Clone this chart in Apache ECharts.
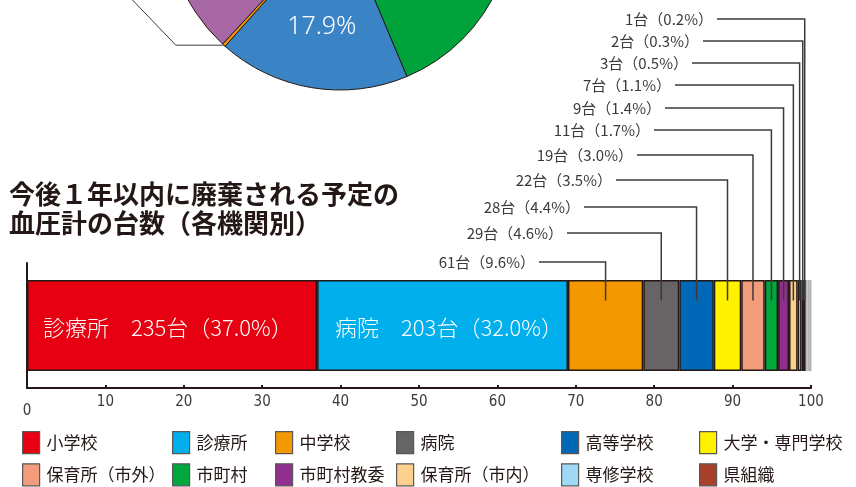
<!DOCTYPE html>
<html>
<head>
<meta charset="utf-8">
<script src="https://cdn.jsdelivr.net/npm/echarts@6/dist/echarts.min.js"></script>
<style>
html, body { margin: 0; padding: 0; background: #fff; }
#main { width: 856px; height: 487px; }
</style>
</head>
<body>
<div id="main"></div>
<script>
// 機関別（棒グラフ）
const categories = ["小学校", "診療所", "中学校", "病院", "高等学校", "大学・専門学校",
    "保育所（市外）", "市町村", "市町村教委", "保育所（市内）", "専修学校", "県組織", "その他"];
const counts = [235, 203, 61, 29, 28, 22, 19, 11, 9, 7, 3, 2, 1];
const percents = [37.0, 32.0, 9.6, 4.6, 4.4, 3.5, 3.0, 1.7, 1.4, 1.1, 0.5, 0.3, 0.2];
const innerNames = ["診療所", "病院"];
const tickValues = [0, 10, 20, 30, 40, 50, 60, 70, 80, 90, 100];

// 上の円グラフ（見えている部分のみ読める）
const pieNames = ["青", "橙", "紫", "その他1", "その他2", "緑"];
const pieValues = [17.9, 0.3, 15.5, 25.0, 16.7, 24.6];

const colors = ["#e60012", "#00afec", "#f39800", "#666464", "#0068b7", "#fff100",
    "#f29c7b", "#00a73c", "#912f8e", "#fdd08c", "#9fd9f6", "#a8402b", "#5a2a22"];
const pieColors = ["#3a84c5", "#f39800", "#a868a5", "#d9d9d9", "#cccccc", "#00a33b"];

// 吹き出しラベルの配置（下から上へ）
const calloutY = [262, 233, 207, 180, 155, 130, 108, 85, 63, 41, 19];
const calloutRight = [535, 563, 580, 612, 633, 650, 661, 671, 688, 699, 713];

const jp = "'Noto Sans CJK JP', sans-serif";
const narrow = "'Liberation Sans Narrow', 'DejaVu Sans Condensed', sans-serif";
const ink = "#3e3a39";

const pieCenter = [340, -83];
const pieR = 173;
const pieStart = 292.8;

let starts = [];
let acc = 0;
percents.forEach(function (p) {
    starts.push(acc);
    acc += p;
});
let calloutData = [];
for (let i = 2; i < percents.length; i++) {
    calloutData.push([starts[i] + percents[i] / 2, 0]);
}

let barSeries = categories.map(function (name, i) {
    let s = {
        name: name,
        type: "bar",
        stack: "all",
        barWidth: 91,
        data: [percents[i]],
        itemStyle: {
            color: colors[i],
            borderColor: "#231815",
            borderWidth: 1.5,
        },
        emphasis: { disabled: true },
    };
    // 棒の右端の影
    if (i >= categories.length - 3) {
        s.itemStyle.shadowColor = "#b5b5b5";
        s.itemStyle.shadowOffsetX = 6;
    }
    if (i < innerNames.length) {
        s.label = {
            show: true,
            position: "insideLeft",
            offset: [i === 0 ? 11 : 13, 2],
            formatter: innerNames[i] + "　" + counts[i] + "台（" + percents[i].toFixed(1) + "%）",
            color: "#fff",
            fontSize: 22,
            fontWeight: 300,
            fontFamily: jp,
        };
    }
    return s;
});

// 凡例：2行×6列
const legendLeft = [22, 172, 275, 396, 561, 699];
let legends = legendLeft.map(function (x, c) {
    return {
        orient: "vertical",
        left: x,
        top: 431,
        padding: 0,
        itemWidth: 17,
        itemHeight: 22,
        itemGap: 9,
        icon: "rect",
        selectedMode: false,
        data: [categories[c], categories[c + 6]],
        itemStyle: {
            borderColor: "#595757",
            borderWidth: 1.2,
            shadowColor: "transparent",
            shadowOffsetX: 0,
        },
        textStyle: {
            color: "#231815",
            fontSize: 17,
            fontFamily: jp,
            padding: [0, 0, 0, 2],
        },
    };
});

let chart = echarts.init(document.getElementById("main"));

let orangeMid = (pieStart - (pieValues[0] + pieValues[1] / 2) * 3.6) * Math.PI / 180;
let lx = pieCenter[0] + pieR * Math.cos(orangeMid);
let ly = pieCenter[1] - pieR * Math.sin(orangeMid);

chart.setOption({
    animation: false,
    title: {
        text: "今後１年以内に廃棄される予定の\n血圧計の台数（各機関別）",
        left: 9,
        top: 180,
        padding: 0,
        textStyle: {
            color: "#231815",
            fontSize: 26,
            fontWeight: "bold",
            fontFamily: jp,
            lineHeight: 29,
        },
    },
    legend: legends,
    grid: { left: 27, right: 45, top: 263, bottom: 99, containLabel: false },
    xAxis: {
        type: "value",
        min: 0,
        max: 100,
        interval: 10,
        splitLine: { show: false },
        axisLine: { show: true, lineStyle: { color: "#231815", width: 2 } },
        axisTick: { show: true, inside: true, length: 3, lineStyle: { color: "#231815", width: 2 } },
        axisLabel: {
            color: ink,
            fontSize: 15,
            fontFamily: narrow,
            margin: 7,
            formatter: function (v) {
                return v === tickValues[0] ? "{z|" + v + "}" : String(v);
            },
            rich: {
                z: { padding: [9, 0, 0, 0], fontSize: 15, fontFamily: narrow, color: ink },
            },
        },
    },
    yAxis: {
        type: "category",
        data: ["機関"],
        axisLine: { show: true, lineStyle: { color: "#231815", width: 2 } },
        axisTick: { show: false },
        axisLabel: { show: false },
    },
    graphic: [
        {
            type: "polyline",
            z: 10,
            shape: { points: [[lx, ly], [lx - 48, ly], [lx - 94, ly - 48]] },
            style: { stroke: ink, lineWidth: 1, fill: null },
        },
    ],
    series: barSeries.concat([
        {
            type: "custom",
            z: 5,
            silent: true,
            data: calloutData,
            renderItem: function (params, api) {
                let i = params.dataIndex;
                let p = api.coord([api.value(0), 0]);
                let y = calloutY[i];
                let k = i + 2;
                return {
                    type: "group",
                    children: [
                        {
                            type: "polyline",
                            shape: { points: [[calloutRight[i] + 4, y], [p[0], y], [p[0], p[1] - 25]] },
                            style: { stroke: ink, lineWidth: 1.5, fill: null },
                        },
                        {
                            type: "text",
                            style: {
                                text: counts[k] + "台（" + percents[k].toFixed(1) + "%）",
                                x: calloutRight[i],
                                y: y,
                                align: "right",
                                verticalAlign: "middle",
                                fill: ink,
                                fontSize: 15,
                                fontFamily: jp,
                            },
                        },
                    ],
                };
            },
        },
        {
            type: "pie",
            center: pieCenter,
            radius: [44, pieR],
            startAngle: pieStart,
            clockwise: true,
            silent: true,
            label: { show: false },
            labelLine: { show: false },
            itemStyle: { borderColor: "#231815", borderWidth: 1 },
            data: pieNames.map(function (n, i) {
                let d = { name: n, value: pieValues[i], itemStyle: { color: pieColors[i] } };
                if (i === 0) {
                    d.label = {
                        show: true,
                        position: "inside",
                        formatter: "{d}%",
                        color: "#fff",
                        fontSize: 25,
                        fontWeight: 300,
                        fontFamily: "'Noto Sans', sans-serif",
                    };
                }
                return d;
            }),
        },
    ]),
});
</script>
</body>
</html>
